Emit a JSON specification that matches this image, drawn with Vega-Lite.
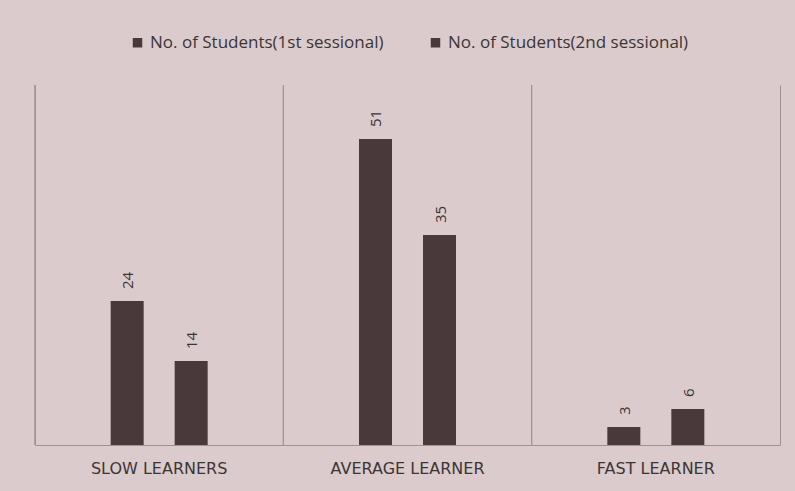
{
  "$schema": "https://vega.github.io/schema/vega-lite/v6.json",
  "width": 745,
  "height": 360,
  "autosize": {"type": "none"},
  "padding": {"left": 35, "top": 85, "right": 15, "bottom": 46},
  "background": "#dccbcc",
  "config": {
    "view": {"stroke": null},
    "font": "Open Sans"
  },
  "data": {
    "values": [
      {"group": "SLOW LEARNERS", "series": "No. of Students(1st sessional)", "value": 24},
      {"group": "SLOW LEARNERS", "series": "No. of Students(2nd sessional)", "value": 14},
      {"group": "AVERAGE LEARNER", "series": "No. of Students(1st sessional)", "value": 51},
      {"group": "AVERAGE LEARNER", "series": "No. of Students(2nd sessional)", "value": 35},
      {"group": "FAST LEARNER", "series": "No. of Students(1st sessional)", "value": 3},
      {"group": "FAST LEARNER", "series": "No. of Students(2nd sessional)", "value": 6}
    ]
  },
  "layer": [
    {
      "mark": {"type": "rule", "color": "#9f9394", "strokeWidth": 1},
      "encoding": {
        "x": {"field": "group", "type": "nominal", "bandPosition": 0, "sort": null}
      }
    },
    {
      "mark": {"type": "bar", "color": "#4a393b", "width": 33},
      "encoding": {
        "x": {
          "field": "group", "type": "nominal", "sort": null,
          "scale": {"paddingInner": 0, "paddingOuter": 0},
          "axis": {
            "title": null, "labelAngle": 0, "ticks": false, "grid": false,
            "bandPosition": 0.5, "labelAlign": "center",
            "domainColor": "#9f9394", "labelFont": "DejaVu Sans", "labelFontSize": 16,
            "labelColor": "#3b3536", "labelPadding": 23
          }
        },
        "xOffset": {
          "field": "series", "type": "nominal",
          "scale": {"paddingInner": 0, "paddingOuter": 0.94}
        },
        "y": {
          "field": "value", "type": "quantitative",
          "scale": {"domain": [0, 60], "nice": false},
          "axis": {"title": null, "labels": false, "ticks": false, "grid": false, "domainColor": "#9f9394"}
        },
        "color": {
          "field": "series", "type": "nominal",
          "scale": {"range": ["#4a393b", "#4a393b"]},
          "legend": {
            "title": null, "orient": "none", "direction": "horizontal",
            "legendX": 94, "legendY": -51,
            "symbolType": "square", "symbolSize": 90, "symbolStrokeWidth": 0,
            "labelFontSize": 17, "labelColor": "#3b3536", "columnPadding": 43,
            "labelLimit": 400
          }
        }
      }
    },
    {
      "mark": {"type": "text", "angle": 270, "align": "left", "baseline": "middle", "dx": 12, "dy": 1, "fontSize": 15, "color": "#3b3536"},
      "encoding": {
        "x": {"field": "group", "type": "nominal", "sort": null},
        "xOffset": {"field": "series", "type": "nominal"},
        "y": {
          "field": "value", "type": "quantitative",
          "axis": {"title": null, "labels": false, "ticks": false, "grid": false, "domainColor": "#9f9394", "orient": "right"}
        },
        "text": {"field": "value", "type": "quantitative"}
      }
    }
  ],
  "resolve": {"axis": {"y": "independent"}}
}
